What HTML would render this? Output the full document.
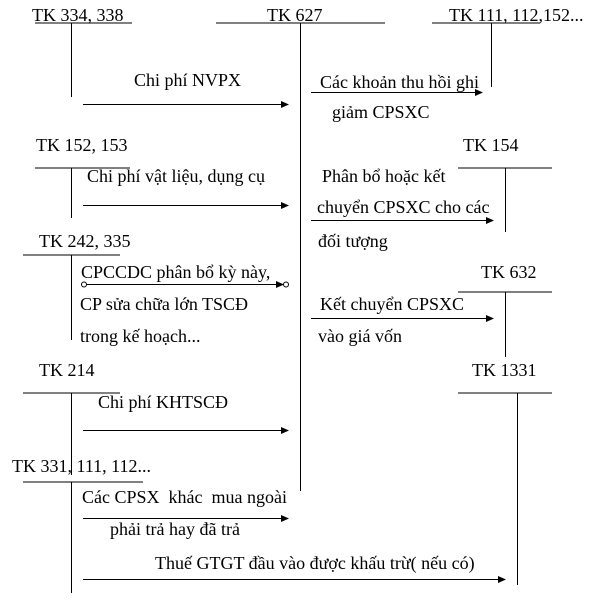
<!DOCTYPE html>
<html><head><meta charset="utf-8"><style>
html,body{margin:0;padding:0;background:#fff;}
svg{display:block}
svg text{font-family:"Liberation Serif","Times New Roman",Times,"DejaVu Serif",serif;font-size:18px;fill:#000}
</style></head><body>
<svg width="600" height="601" viewBox="0 0 600 601" xmlns="http://www.w3.org/2000/svg">
<defs><marker id="a" markerWidth="8" markerHeight="8" refX="7" refY="4" orient="auto" markerUnits="userSpaceOnUse"><path d="M0,0.5 L8,4 L0,7.5z" fill="#000"/></marker></defs>
<g stroke="#000" stroke-width="1" fill="none">
<line x1="35" y1="23" x2="132" y2="23"/><line x1="71.5" y1="23" x2="71.5" y2="97"/>
<line x1="83" y1="104.5" x2="288" y2="104.5" marker-end="url(#a)"/>
<line x1="216" y1="23" x2="385" y2="23"/><line x1="300.5" y1="23" x2="300.5" y2="491"/>
<line x1="432" y1="23" x2="540" y2="23"/><line x1="491.5" y1="23" x2="491.5" y2="87"/>
<line x1="311" y1="92.5" x2="482" y2="92.5" marker-end="url(#a)"/>
<line x1="35" y1="168" x2="130" y2="168"/><line x1="71.5" y1="168" x2="71.5" y2="218"/>
<line x1="83" y1="205.5" x2="288" y2="205.5" marker-end="url(#a)"/>
<line x1="458" y1="168" x2="552" y2="168"/><line x1="505.5" y1="168" x2="505.5" y2="232"/>
<line x1="311" y1="220.5" x2="493" y2="220.5" marker-end="url(#a)"/>
<line x1="23" y1="255" x2="120" y2="255"/><line x1="71.5" y1="255" x2="71.5" y2="340"/>
<line x1="86" y1="284.5" x2="283" y2="284.5" marker-end="url(#a)"/>
<circle cx="84" cy="284.5" r="2.5"/><circle cx="286" cy="284.5" r="2.5"/>
<line x1="458" y1="292" x2="552" y2="292"/><line x1="505.5" y1="292" x2="505.5" y2="357"/>
<line x1="311" y1="318.5" x2="493" y2="318.5" marker-end="url(#a)"/>
<line x1="23" y1="393" x2="120" y2="393"/><line x1="71.5" y1="393" x2="71.5" y2="475"/>
<line x1="83" y1="430.5" x2="288" y2="430.5" marker-end="url(#a)"/>
<line x1="458" y1="393" x2="552" y2="393"/><line x1="517.5" y1="393" x2="517.5" y2="585"/>
<line x1="23" y1="482" x2="143" y2="482"/><line x1="71.5" y1="482" x2="71.5" y2="593"/>
<line x1="83" y1="518.5" x2="288" y2="518.5" marker-end="url(#a)"/>
<line x1="83" y1="579.5" x2="505" y2="579.5" marker-end="url(#a)"/>
</g>
<g style="font-family:'Liberation Serif','Times New Roman',Times,serif" font-size="18" fill="#000">
<text x="32" y="21">TK 334, 338</text>
<text x="267" y="21">TK 627</text>
<text x="449" y="21">TK 111, 112,152...</text>
<text x="134" y="86">Chi phí NVPX</text>
<text x="320" y="88">Các khoản thu hồi ghi</text>
<text x="332" y="118">giảm CPSXC</text>
<text x="36" y="151">TK 152, 153</text>
<text x="463" y="151">TK 154</text>
<text x="87" y="182">Chi phí vật liệu, dụng cụ</text>
<text x="322" y="182">Phân bổ hoặc kết</text>
<text x="317" y="213">chuyển CPSXC cho các</text>
<text x="318" y="247">đối tượng</text>
<text x="39" y="247">TK 242, 335</text>
<text x="81" y="278">CPCCDC phân bổ kỳ này,</text>
<text x="481" y="278">TK 632</text>
<text x="80" y="310">CP sửa chữa lớn TSCĐ</text>
<text x="320" y="310">Kết chuyển CPSXC</text>
<text x="80" y="342">trong kế hoạch...</text>
<text x="318" y="342">vào giá vốn</text>
<text x="39" y="376">TK 214</text>
<text x="472" y="376">TK 1331</text>
<text x="98" y="408">Chi phí KHTSCĐ</text>
<text x="12" y="472">TK 331, 111, 112...</text>
<text x="82" y="503">Các CPSX&#160; khác&#160; mua ngoài</text>
<text x="110" y="535">phải trả hay đã trả</text>
<text x="155" y="569">Thuế GTGT đầu vào được khấu trừ( nếu có)</text>
</g>
</svg>
</body></html>
